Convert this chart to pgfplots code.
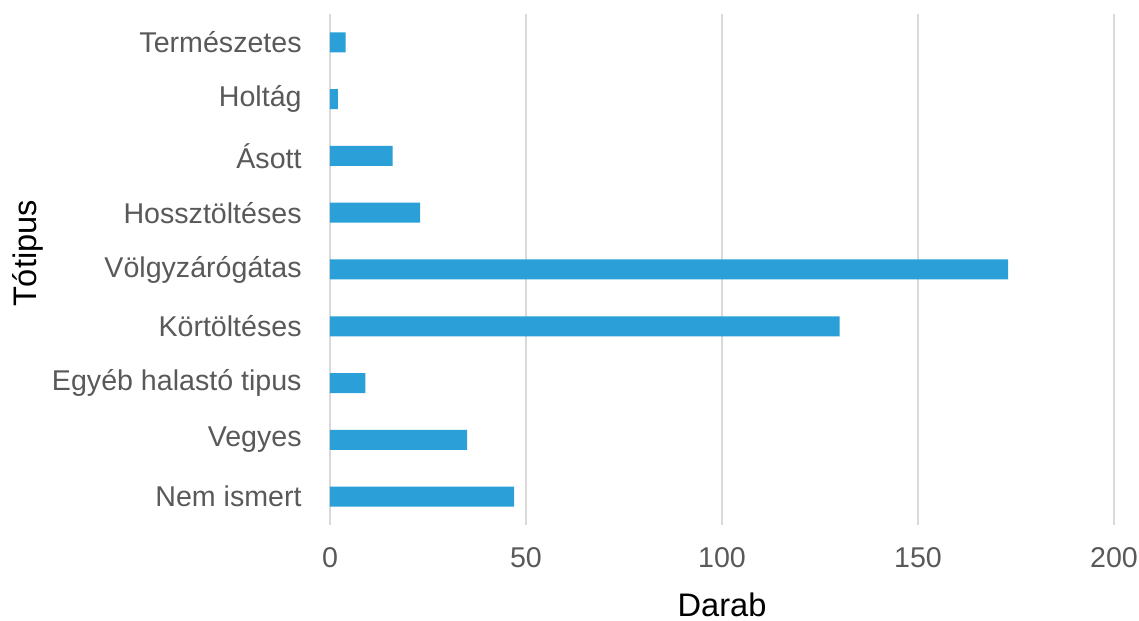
\documentclass[border=0pt]{standalone}
\usepackage{fontspec}
\setmainfont{Liberation Sans}
\usepackage{pgfplots}
\pgfplotsset{compat=1.18}
\usetikzlibrary{calc}
\definecolor{barblue}{HTML}{2A9FD8}
\definecolor{txtgray}{HTML}{595959}
\definecolor{gridgray}{HTML}{D9D9D9}

\begin{document}
\begin{tikzpicture}
\begin{axis}[
    name=ax,
    xbar, scale only axis,
    width=392pt, height=255.5pt,
    xmin=0, xmax=200, ymin=-0.5, ymax=8.5,
    xtick={0,50,...,200},
    ytick={0,...,8},
    yticklabels={Nem ismert,Vegyes,Egyéb halastó tipus,Körtöltéses,Völgyzárógátas,Hossztöltéses,Ásott,Holtág,Természetes},
    axis line style={draw=none},
    major tick length=0pt,
    xmajorgrids,
    grid style={gridgray, line width=1pt},
    bar width=10pt,
    tick label style={font=\fontsize{14.3}{16}\selectfont, text=txtgray},
    /pgf/number format/assume math mode=true,
    xticklabel style={anchor=center, yshift=-16.5pt},
    yticklabel style={anchor=east, inner sep=0pt, xshift=-14pt},
    xlabel={Darab}, ylabel={Tótipus},
    label style={font=\fontsize{16.3}{18}\selectfont, text=black},
    xlabel style={at={(rel axis cs:0.5,0)}, anchor=center, yshift=-40pt},
    ylabel style={at={(rel axis cs:0,0.5)}, anchor=center, xshift=8pt, yshift=151pt},
]
\addplot[draw=none, fill=barblue] coordinates {
    (47,0) (35,1) (9,2) (130,3) (173,4) (23,5) (16,6) (2,7) (4,8)
};
\end{axis}
\pgfresetboundingbox
\path ($(ax.south west)+(-165pt,-48pt)$) rectangle ($(ax.north east)+(12.5pt,7pt)$);
\end{tikzpicture}
\end{document}
